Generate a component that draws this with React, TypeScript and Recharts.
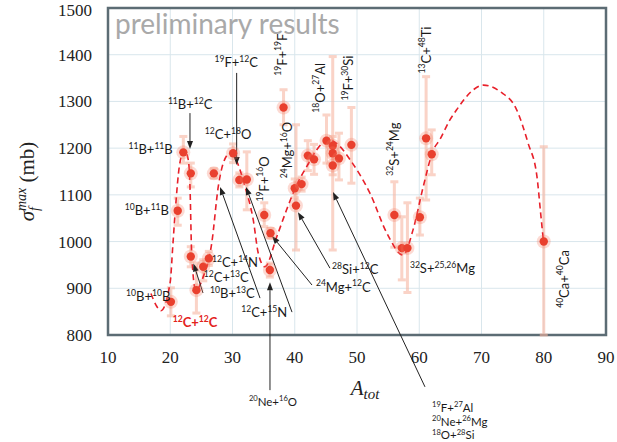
import React from 'react';
import {
  ComposedChart, XAxis, YAxis, CartesianGrid, Scatter, ErrorBar, Line,
  ReferenceLine, ReferenceDot, ReferenceArea,
} from 'recharts';

// ---- data: measured points (A_tot, sigma_f^max, error low, error high)
const aTot = [20.1, 21.2, 22.1, 23.3, 23.3, 24.2, 25.3, 26.2, 27.0, 30.1, 31.1, 32.3, 35.1, 36.1, 36.0, 38.2, 40.0, 40.2, 41.1, 42.1, 43.1, 45.1, 46.1, 46.1, 47.1, 46.1, 49.1, 56.0, 57.2, 58.1, 60.1, 61.1, 62.0, 80.0];
const sigma = [871, 1066, 1191, 1146, 968, 896, 946, 964, 1146, 1189, 1132, 1133, 1057, 1018, 939, 1287, 1114, 1077, 1123, 1184, 1176, 1216, 1205, 1189, 1178, 1163, 1207, 1057, 986, 986, 1052, 1221, 1187, 1000];
const errLow = [30, 31, 23, 29, 22, 49, 30, 15, 10, 20, 15, 65, 25, 10, 15, 37, 20, 95, 15, 32, 32, 48, 20, 207, 46, 20, 82, 69, 68, 95, 38, 132, 44, 200];
const errHigh = [30, 27, 34, 22, 21, 58, 15, 15, 10, 20, 15, 59, 26, 10, 15, 38, 20, 173, 15, 32, 32, 55, 20, 207, 54, 20, 80, 71, 67, 97, 41, 132, 52, 203];

// ---- data: dashed trend curve
const curveA = [16.9, 17.8, 18.5, 20.0, 20.4, 20.9, 21.45, 22.25, 22.9, 23.17, 23.44, 24.09, 25.31, 26.66, 27.72, 28.52, 29.6, 30.56, 32.0, 33.34, 34.14, 35.2, 37.1, 38.69, 40.3, 41.9, 43.5, 45.4, 47.0, 48.9, 52.1, 54.8, 57.4, 59.0, 60.65, 62.26, 63.3, 64.9, 66.0, 68.7, 70.3, 73.0, 75.65, 77.5, 78.9, 79.5, 79.93];
const curveS = [889, 862, 852, 914, 989, 1082, 1160, 1196, 1175, 1118, 975, 896, 925, 996, 1118, 1168, 1189, 1175, 1118, 1046, 975, 946, 1010, 1068, 1121, 1160, 1196, 1218, 1207, 1175, 1103, 1018, 971, 1025, 1118, 1196, 1218, 1260, 1282, 1325, 1335, 1321, 1282, 1210, 1140, 1061, 1003];

// ---- axis ticks
const xTicks = [10, 20, 30, 40, 50, 60, 70, 80, 90];
const yTicks = [800, 900, 1000, 1100, 1200, 1300, 1400, 1500];

// ---- annotation texts ({..} = superscript)
const hLabels = [
  { text: '{11}B+{12}C', A: 23.2, s: 1284, anchor: 'middle' },
  { text: '{19}F+{12}C', A: 30.6, s: 1374, anchor: 'middle' },
  { text: '{11}B+{11}B', A: 20.4, s: 1188, anchor: 'end' },
  { text: '{12}C+{18}O', A: 29.3, s: 1220, anchor: 'middle' },
  { text: '{10}B+{11}B', A: 19.8, s: 1057, anchor: 'end' },
  { text: '{12}C+{14}N', A: 26.7, s: 946, anchor: 'start' },
  { text: '{12}C+{13}C', A: 25.4, s: 913, anchor: 'start' },
  { text: '{10}B+{13}C', A: 26.4, s: 879, anchor: 'start' },
  { text: '{10}B+{10}B', A: 12.9, s: 873, anchor: 'start' },
  { text: '{12}C+{12}C', A: 20.4, s: 817, anchor: 'start', red: true },
  { text: '{12}C+{15}N', A: 31.4, s: 838, anchor: 'start' },
  { text: '{28}Si+{12}C', A: 46.0, s: 930, anchor: 'start' },
  { text: '{24}Mg+{12}C', A: 43.4, s: 893, anchor: 'start' },
  { text: '{32}S+{25,26}Mg', A: 58.5, s: 933, anchor: 'start' },
  { text: '{20}Ne+{16}O', A: 36.5, s: 648, anchor: 'middle', small: true },
  { text: '{19}F+{27}Al', A: 62.05, s: 636, anchor: 'start', small: true },
  { text: '{20}Ne+{26}Mg', A: 62.05, s: 606, anchor: 'start', small: true },
  { text: '{18}O+{28}Si', A: 62.05, s: 577, anchor: 'start', small: true },
];
const vLabels = [
  { text: '{19}F+{19}F', A: 37.95, s: 1400 },
  { text: '{24}Mg+{16}O', A: 38.9, s: 1196 },
  { text: '{19}F+{16}O', A: 35.06, s: 1134 },
  { text: '{18}O+{27}Al', A: 44.06, s: 1329 },
  { text: '{19}F+{30}Si', A: 48.7, s: 1350 },
  { text: '{13}C+{48}Ti', A: 61.08, s: 1410 },
  { text: '{32}S+{24}Mg', A: 55.94, s: 1198 },
  { text: '{40}Ca+{40}Ca', A: 83.25, s: 920 },
];
const arrows = [
  { a1: 23.17, s1: 1275, a2: 23.17, s2: 1198 },
  { a1: 30.67, s1: 1361, a2: 30.67, s2: 1164 },
  { a1: 34.42, s1: 879, a2: 28.0, s2: 1117 },
  { a1: 39.56, s1: 849, a2: 32.17, s2: 1117 },
  { a1: 42.77, s1: 907, a2: 36.35, s2: 1012 },
  { a1: 45.66, s1: 943, a2: 40.52, s2: 1063 },
  { a1: 25.26, s1: 890, a2: 23.73, s2: 953 },
  { a1: 36.02, s1: 682, a2: 36.02, s2: 913 },
  { a1: 60.92, s1: 689, a2: 46.14, s2: 1106 },
];
const watermark = { text: 'preliminary results', A: 11.12, s: 1444 };

const points = aTot.map((A, i) => ({ A, s: sigma[i], err: [errLow[i], errHigh[i]] }));
const curve = curveA.map((A, i) => ({ A, s: curveS[i] }));

const LABEL_FONT = 'Lato, "Noto Sans", sans-serif';
const SERIF = '"Liberation Serif", "DejaVu Serif", serif';

function parse(text: string) {
  const out: { t: string; sup: boolean }[] = [];
  const re = /\{([^}]*)\}|([^{]+)/g;
  let m;
  while ((m = re.exec(text)) !== null) {
    if (m[1] !== undefined) out.push({ t: m[1], sup: true });
    else out.push({ t: m[2], sup: false });
  }
  return out;
}

function richSpans(text: string, size: number) {
  const parts = parse(text);
  const sup = size * 0.66;
  const rise = size * 0.4;
  let up = false;
  return parts.map((p, i) => {
    let dy = 0;
    if (p.sup && !up) { dy = -rise; up = true; }
    else if (!p.sup && up) { dy = rise; up = false; }
    return (
      <tspan key={i} fontSize={p.sup ? sup : size} dy={dy}>{p.t}</tspan>
    );
  });
}

const Dot = (p: any) => (
  <g>
    <circle cx={p.cx} cy={p.cy} r={7} fill="#f47a62" opacity={0.28} />
    <circle cx={p.cx} cy={p.cy} r={4.2} fill="#e9402e" />
  </g>
);

const arrowShape = (p: any) => {
  const { x1, y1, x2, y2 } = p;
  const dx = x2 - x1, dy = y2 - y1;
  const len = Math.sqrt(dx * dx + dy * dy) || 1;
  const ux = dx / len, uy = dy / len;
  const hl = 8, hw = 3;
  const bx = x2 - ux * hl, by = y2 - uy * hl;
  const pts = `${x2},${y2} ${bx - uy * hw},${by + ux * hw} ${bx + uy * hw},${by - ux * hw}`;
  return (
    <g>
      <line x1={x1} y1={y1} x2={bx} y2={by} stroke="#222" strokeWidth={1} />
      <polygon points={pts} fill="#222" />
    </g>
  );
};

const makeHLabel = (l: any) => (p: any) => {
  const size = l.small ? 11.5 : 13;
  return (
    <text x={p.cx} y={p.cy} textAnchor={l.anchor} fontFamily={LABEL_FONT}
      fill={l.red ? '#e3231b' : '#1a1a1a'} fontWeight={l.red ? 700 : 400}>
      {richSpans(l.text, size)}
    </text>
  );
};

const makeVLabel = (l: any) => (p: any) => {
  const size = 13;
  return (
    <text x={p.cx} y={p.cy + size * 0.35} textAnchor="middle" fontFamily={LABEL_FONT}
      fill="#1a1a1a" transform={`rotate(-90 ${p.cx} ${p.cy})`}>
      {richSpans(l.text, size)}
    </text>
  );
};

const watermarkShape = (p: any) => (
  <text x={p.cx} y={p.cy} fontFamily={LABEL_FONT} fontSize={28} fill="#a9a9a9">{watermark.text}</text>
);

const XTitle = (props: any) => {
  const vb = props.viewBox || { x: 108, y: 335, width: 498, height: 107 };
  const cx = vb.x + vb.width / 2 + 8;
  const y = vb.y + 60;
  return (
    <text x={cx} y={y} textAnchor="middle" fontFamily={SERIF} fill="#222">
      <tspan fontStyle="italic" fontSize={21}>A</tspan>
      <tspan fontStyle="italic" fontSize={15} dy={4}>tot</tspan>
    </text>
  );
};

const YTitle = (props: any) => {
  const vb = props.viewBox || { x: 0, y: 8, width: 108, height: 327 };
  const cx = vb.x + 27;
  const cy = vb.y + vb.height / 2 + 10;
  return (
    <text transform={`rotate(-90 ${cx} ${cy})`} x={cx} y={cy + 7} textAnchor="middle"
      fontFamily={SERIF} fontSize={21} fill="#222">
      <tspan fontStyle="italic">σ</tspan>
      <tspan fontStyle="italic" fontSize={14} dy={5}>f</tspan>
      <tspan fontStyle="italic" fontSize={14} dx={-4} dy={-13}>max</tspan>
      <tspan dy={8}> (mb)</tspan>
    </text>
  );
};

export default function App() {
  return (
    <div style={{ position: 'absolute', left: 0, top: 0, width: 617, height: 442, background: '#fff' }}>
      <ComposedChart width={617} height={442} margin={{ top: 8, right: 11, left: 0, bottom: 0 }}>
        <CartesianGrid stroke="#d9e6ec" strokeWidth={1} />
        <XAxis dataKey="A" type="number" domain={[10, 90]} ticks={xTicks} allowDataOverflow
          height={107} tickSize={0} tickMargin={16} axisLine={false}
          tick={{ fontFamily: SERIF, fontSize: 17, fill: '#222' }}
          label={{ content: <XTitle /> }} />
        <YAxis type="number" domain={[800, 1500]} ticks={yTicks} allowDataOverflow
          width={108} tickSize={0} tickMargin={16} axisLine={false}
          tick={{ fontFamily: SERIF, fontSize: 17, fill: '#222' }}
          label={{ content: <YTitle /> }} />
        <ReferenceArea x1={10} x2={90} y1={800} y2={1500} fill="none" stroke="#5c6c74" strokeWidth={2.5} ifOverflow="visible" />
        <ReferenceDot x={watermark.A} y={watermark.s} r={0} ifOverflow="visible" shape={watermarkShape} />
        <Scatter data={points} dataKey="s" shape={Dot} isAnimationActive={false}>
          <ErrorBar dataKey="err" direction="y" width={4} strokeWidth={3} stroke="#f7b6a2" opacity={0.6} />
        </Scatter>
        <Line data={curve} dataKey="s" type="monotone" stroke="#e8202a" strokeWidth={1.6}
          strokeDasharray="6 4" dot={false} activeDot={false} isAnimationActive={false} />
        {arrows.map((a, i) => (
          <ReferenceLine key={'ar' + i} segment={[{ x: a.a1, y: a.s1 }, { x: a.a2, y: a.s2 }]}
            ifOverflow="visible" shape={arrowShape} />
        ))}
        {hLabels.map((l, i) => (
          <ReferenceDot key={'hl' + i} x={l.A} y={l.s} r={0} ifOverflow="visible" shape={makeHLabel(l)} />
        ))}
        {vLabels.map((l, i) => (
          <ReferenceDot key={'vl' + i} x={l.A} y={l.s} r={0} ifOverflow="visible" shape={makeVLabel(l)} />
        ))}
      </ComposedChart>
    </div>
  );
}
